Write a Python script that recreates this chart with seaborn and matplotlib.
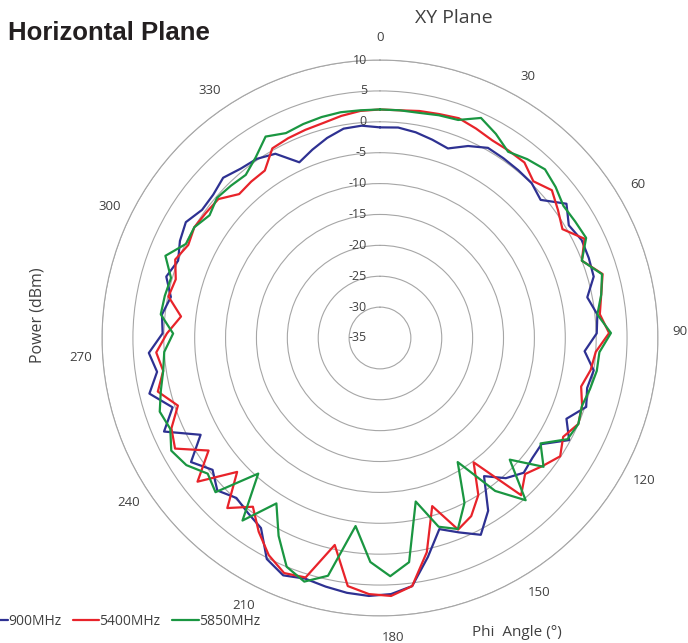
import numpy as np
import pandas as pd
import seaborn as sns
import matplotlib.pyplot as plt
from matplotlib.transforms import offset_copy

# Phi angle (deg), 0..360 every 5 deg -> 73 radar categories (as in Excel)
phi = list(range(0, 361, 5))

# Power (dBm)
p900 = [-0.9, -0.8, -1.2, -1.8, -2.4, -0.8, 0.4, 0.3, 0.2, 0.1, -0.7, 2.2,
        0.6, 1.3, 1.2, 1.0, -0.8, 0.4, 0.1, -1.8, 0, -0.5, 0.2, -2.1,
        -0.2, -3.7, -3.6, -3.1, -4.5, -7, -2, 0.8, -1, -2.6, 1.3, 5.5,
        6.5, 6.8, 6.6, 6.2, 5.8, 6.5, 5.2, 1.3, 0.5, -0.2, 1.1, -0.5,
        1.6, -2, 3.1, 0.4, 3.4, 1.5, 2.5, 0.2, 0.5, -0.5, 1.0, 0,
        1.0, 1.6, 0.5, 0.6, 1.3, 0.5, 0.2, -0.7, -3.7, -2.6, -1.5, -0.6,
        -0.5]
p5400 = [2, 2, 2.3, 2.5, 2.8, 2.3, 1.8, 1.8, 1.8, 0.5, 1.7, 0.5,
         -0.6, 1.8, 0, 2.5, 1.5, 0.8, 2.1, 0, -0.5, -1.5, -0.5, 0,
         -1.3, -0.1, -1.5, -2.8, -0.8, -9.8, -5, -2.6, -1.5, -6.5, 0.5, 5.5,
         6.8, 6.5, 5.5, -0.7, 5.6, 6.1, 4.5, 2, -0.8, 2, -3.3, 2.6,
         -1.8, 2.7, 1.8, -0.5, 2.0, 0.5, 1.3, -0.5, -2.6, -0.1, -0.6, 0.5,
         -0.5, 0, -0.3, -0.5, -2.4, -2.2, -2.1, 0.3, 0.6, 0.8, 1, 1.5,
         1.9]
p5850 = [2, 2, 2, 2.3, 2.5, 4.2, 3, 1.6, 2.5, 3.2, 2.5, 1.6,
         1.8, 2.1, 0, 2.4, 1.5, 0.4, 2.4, 0.6, 0.5, 0, -0.5, 0,
         -0.5, -3.9, -1.3, -6.2, 0.3, -4, -11.3, -5, -1.6, -3, -7.9, 1.6,
         3.6, 1.3, -4.3, 4.4, 6.3, 5, 1, -3.4, 2, -5.5, 1.5, 0.5,
         2.5, 3.4, 2, 2.6, 1.5, 0.5, 0, -1.5, 0.7, 0.5, 0.2, 2.2,
         -0.1, 0, -1, -0.2, -0.5, -0.8, 0.5, 2.5, 1.5, 1.8, 2, 2.1,
         2]

series = ["900MHz", "5400MHz", "5850MHz"]
colors = ["#2e3192", "#e8232a", "#1a9641"]
rings = list(range(-35, 11, 5))
phi_labels = list(range(0, 360, 30))

# each phi value is one radar category spread evenly round the circle
n_cat = len(phi)
step = 2 * np.pi / n_cat
rows = []
for name, vals in zip(series, [p900, p5400, p5850]):
    for i, v in enumerate(vals + [vals[0]]):   # close the trace
        rows.append({"pos": i * step, "dBm": v, "band": name})
df = pd.DataFrame(rows)

sns.set_theme(style="white")
plt.rcParams["font.family"] = ["Open Sans", "DejaVu Sans"]

fig = plt.figure(figsize=(6.88, 6.43), dpi=100)
ax = fig.add_axes([0.1483, 0.042, 0.808, 0.8647], projection="polar")
ax.set_theta_zero_location("N")
ax.set_theta_direction(-1)

sns.lineplot(data=df, x="pos", y="dBm", hue="band", palette=colors,
             sort=False, estimator=None, linewidth=1.6, legend=False, ax=ax)

ax.set_ylim(-35, 10)
ax.set_yticks(rings)
ax.set_yticklabels([])
ax.set_xticks([phi.index(p) * step for p in phi_labels])
ax.set_xticklabels([str(p) for p in phi_labels], fontsize=9.5, color="#404040")
ax.tick_params(axis="x", pad=3)
ax.xaxis.grid(False)
ax.yaxis.grid(True, color="#a6a6a6", linewidth=0.8)
ax.spines["polar"].set_color("#a6a6a6")
ax.spines["polar"].set_linewidth(0.8)
ax.set_xlabel("")
ax.set_ylabel("")

# ring values sit in a column just left of the 0 deg axis
lab_tr = offset_copy(ax.transData, fig=fig, x=-13, y=0, units="dots")
for r in rings:
    ax.text(0, r, str(r), transform=lab_tr, ha="right", va="center",
            fontsize=9, color="#404040")

fig.text(0.012, 0.938, "Horizontal Plane", fontsize=18.5, fontweight="bold",
         color="#231f20", va="baseline", family=["Liberation Sans", "DejaVu Sans"])
fig.text(0.66, 0.972, "XY Plane", fontsize=14, color="#404040", ha="center", va="center")
fig.text(0.055, 0.51, "Power (dBm)", fontsize=11.5, color="#404040",
         rotation=90, ha="center", va="center")
fig.text(0.686, 0.016, "Phi  Angle (°)", fontsize=11, color="#404040", va="center")

fig.legend(ax.lines, series, loc="center left", bbox_to_anchor=(-0.045, 0.033),
           ncol=3, frameon=False, fontsize=10, handlelength=1.9,
           handletextpad=0.0, columnspacing=0.85, labelcolor="#404040")

fig.savefig("out.png", dpi=100)
